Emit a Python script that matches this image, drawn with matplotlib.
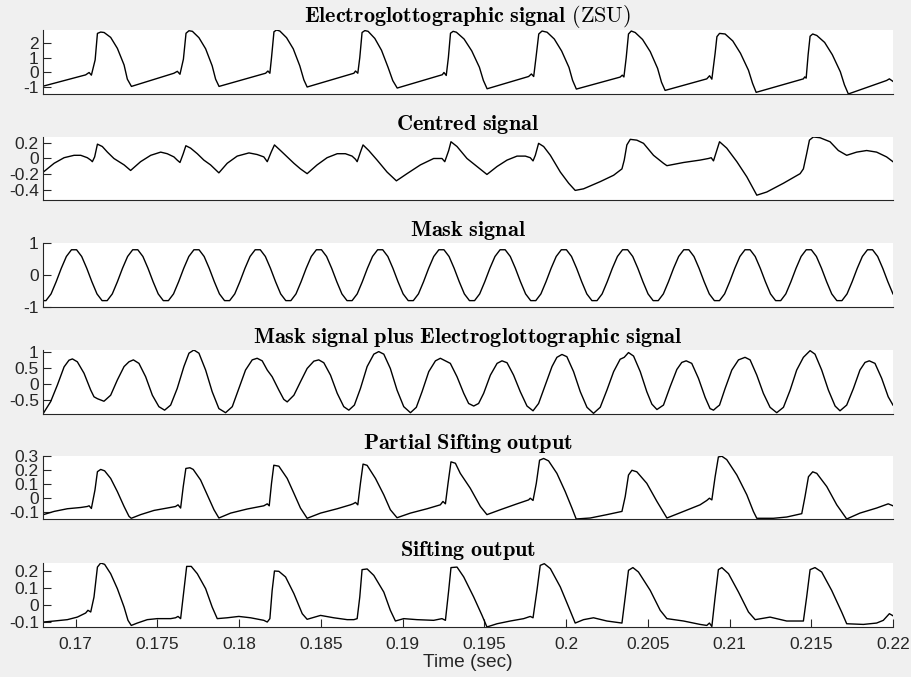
import numpy as np
import matplotlib
matplotlib.use("Agg")
import matplotlib.pyplot as plt

# All times are in milliseconds.

# Electroglottographic signal (ZSU)
egg_t = [168.02, 170.61, 170.82, 170.96, 171.19, 171.33, 171.53, 171.74, 172.14, 172.55, 172.96, 173.16, 173.41,
         176.01, 176.22, 176.38, 176.59, 176.75, 176.93, 177.14, 177.54, 177.95, 178.35, 178.56, 178.77,
         181.62, 181.76, 181.88, 181.98, 182.13, 182.29, 182.49, 182.90, 183.31, 183.71, 183.96, 184.16,
         187.02, 187.12, 187.26, 187.38, 187.52, 187.69, 187.89, 188.30, 188.71, 189.11, 189.40, 189.67,
         192.43, 192.53, 192.67, 192.80, 192.93, 193.09, 193.29, 193.76, 194.23, 194.70, 194.94, 195.17,
         197.71, 197.88, 198.02, 198.16, 198.33, 198.53, 198.84, 199.28, 199.73, 200.18, 200.40, 200.63,
         203.31, 203.44, 203.54, 203.68, 203.82, 203.99, 204.23, 204.68, 205.15, 205.60, 205.84, 206.06,
         208.61, 208.78, 208.92, 209.12, 209.23, 209.39, 209.73, 210.20, 210.67, 211.16, 211.41, 211.63,
         214.52, 214.60, 214.69, 214.81, 214.93, 215.09, 215.34, 215.82, 216.29, 216.78, 217.03, 217.27,
         219.61, 219.78, 220.00]
egg_y = [-0.92, -0.16, 0.00, -0.18, 0.85, 2.64, 2.73, 2.70, 2.37, 1.63, 0.51, -0.45, -0.94,
         -0.05, 0.08, -0.12, 0.90, 2.65, 2.82, 2.78, 2.35, 1.60, 0.45, -0.45, -0.94,
         -0.05, 0.10, -0.05, 1.00, 2.75, 2.87, 2.80, 2.35, 1.60, 0.45, -0.50, -0.98,
         -0.05, 0.10, -0.05, 1.00, 2.70, 2.83, 2.78, 2.30, 1.50, 0.35, -0.55, -1.05,
         -0.15, 0.00, -0.20, 1.00, 2.65, 2.78, 2.72, 2.26, 1.46, 0.35, -0.53, -1.10,
         -0.27, -0.10, -0.27, 1.00, 2.60, 2.80, 2.72, 2.26, 1.45, 0.34, -0.53, -1.12,
         -0.31, -0.18, -0.30, 1.00, 2.60, 2.80, 2.70, 2.23, 1.41, 0.28, -0.66, -1.21,
         -0.43, -0.22, -0.45, 1.30, 2.42, 2.64, 2.60, 2.13, 1.30, 0.15, -0.73, -1.34,
         -0.43, -0.30, -0.38, 1.20, 2.45, 2.60, 2.50, 2.03, 1.20, 0.05, -0.83, -1.45,
         -0.54, -0.43, -0.60]

# Centred signal
centred_t = [168.02, 168.68, 169.29, 169.90, 170.31, 170.71, 170.92, 171.02, 171.16, 171.33, 171.63, 171.94, 172.34, 172.96, 173.36,
             173.97, 174.59, 175.20, 175.60, 176.01, 176.21, 176.38, 176.58, 176.74, 177.03, 177.44, 177.84, 178.25, 178.76,
             179.27, 179.88, 180.60, 181.10, 181.51, 181.72, 181.96, 182.16, 182.53, 182.94, 183.35, 183.75, 184.16,
             184.77, 185.38, 186.00, 186.50, 186.91, 187.12, 187.22, 187.42, 187.58, 187.93, 188.44, 189.05, 189.62,
             190.27, 191.09, 191.90, 192.41, 192.58, 192.82, 192.96, 193.33, 193.94, 194.55, 195.16,
             195.78, 196.39, 197.00, 197.51, 197.81, 197.98, 198.12, 198.32, 198.63, 199.04, 199.65, 200.16, 200.56,
             201.07, 202.09, 202.91, 203.42, 203.56, 203.72, 203.93, 204.33, 204.74, 205.35, 205.96, 206.17,
             207.19, 208.20, 208.71, 208.88, 209.02, 209.22, 209.39, 209.83, 210.45, 211.06, 211.67,
             212.28, 213.30, 214.32, 214.52, 214.72, 214.89, 215.13, 215.54, 216.15, 216.66, 217.17,
             217.78, 218.39, 219.00, 219.61, 220.00]
centred_y = [-0.17, -0.06, 0.01, 0.04, 0.04, 0.01, -0.02, -0.04, 0.02, 0.18, 0.15, 0.08, 0.00, -0.08, -0.15,
             -0.04, 0.04, 0.08, 0.06, 0.02, -0.02, -0.05, 0.06, 0.16, 0.13, 0.06, -0.02, -0.08, -0.18,
             -0.06, 0.03, 0.07, 0.05, 0.02, -0.04, 0.08, 0.17, 0.10, 0.02, -0.06, -0.13, -0.19,
             -0.08, 0.01, 0.06, 0.06, 0.03, -0.01, -0.04, 0.08, 0.17, 0.10, -0.02, -0.17, -0.28,
             -0.19, -0.08, 0.00, 0.00, -0.04, 0.10, 0.21, 0.15, 0.00, -0.10, -0.20,
             -0.10, -0.02, 0.03, 0.03, 0.01, -0.03, 0.04, 0.19, 0.15, 0.04, -0.17, -0.31, -0.40,
             -0.38, -0.29, -0.21, -0.13, -0.02, 0.17, 0.24, 0.23, 0.19, 0.04, -0.06, -0.09,
             -0.05, -0.02, 0.00, 0.01, -0.03, 0.10, 0.21, 0.13, -0.04, -0.23, -0.46,
             -0.42, -0.31, -0.19, -0.13, 0.06, 0.23, 0.27, 0.26, 0.21, 0.10, 0.04,
             0.08, 0.10, 0.08, 0.02, -0.04]

# Mask signal, sampled evenly from 167.869 ms to 220.0 ms (12 samples per cycle)
mask_y = [-0.80,
          -0.80, -0.59, -0.21, 0.21, 0.58, 0.79, 0.79, 0.58, 0.21, -0.21, -0.59, -0.80,
          -0.80, -0.59, -0.21, 0.21, 0.58, 0.79, 0.79, 0.58, 0.21, -0.21, -0.59, -0.80,
          -0.80, -0.59, -0.21, 0.21, 0.58, 0.79, 0.79, 0.58, 0.21, -0.21, -0.59, -0.80,
          -0.80, -0.59, -0.21, 0.21, 0.58, 0.79, 0.79, 0.58, 0.21, -0.21, -0.59, -0.80,
          -0.80, -0.59, -0.21, 0.21, 0.58, 0.79, 0.79, 0.58, 0.21, -0.21, -0.59, -0.80,
          -0.80, -0.59, -0.21, 0.21, 0.58, 0.79, 0.79, 0.58, 0.21, -0.21, -0.59, -0.80,
          -0.80, -0.59, -0.21, 0.21, 0.58, 0.79, 0.79, 0.58, 0.21, -0.21, -0.59, -0.80,
          -0.80, -0.59, -0.21, 0.21, 0.58, 0.79, 0.79, 0.58, 0.21, -0.21, -0.59, -0.80,
          -0.80, -0.59, -0.21, 0.21, 0.58, 0.79, 0.79, 0.58, 0.21, -0.21, -0.59, -0.80,
          -0.80, -0.59, -0.21, 0.21, 0.58, 0.79, 0.79, 0.58, 0.21, -0.21, -0.59, -0.80,
          -0.80, -0.59, -0.21, 0.21, 0.58, 0.79, 0.79, 0.58, 0.21, -0.21, -0.59, -0.80,
          -0.80, -0.59, -0.21, 0.21, 0.58, 0.79, 0.79, 0.58, 0.21, -0.21, -0.59, -0.80,
          -0.80, -0.59, -0.21, 0.21, 0.58, 0.79, 0.79, 0.58, 0.21, -0.21, -0.59, -0.80,
          -0.80, -0.59, -0.21, 0.21, 0.58, 0.79, 0.79, 0.58, 0.21, -0.21, -0.59]
mask_t = np.linspace(167.869, 220.0, len(mask_y))

# Mask signal plus Electroglottographic signal
mask_egg_t = [168.02, 168.47, 168.88, 169.29, 169.59, 169.80, 170.10, 170.51, 170.92, 171.12, 171.33, 171.73,
              172.14, 172.55, 172.96, 173.26, 173.53, 173.87, 174.28, 174.69, 175.09, 175.44,
              175.81, 176.21, 176.62, 176.93, 177.23, 177.54, 177.95, 178.35, 178.76, 179.17,
              179.58, 179.98, 180.39, 180.80, 181.10, 181.41, 181.72, 182.02, 182.43, 182.73, 182.94,
              183.35, 183.75, 184.16, 184.57, 184.87, 185.18, 185.59, 186.00, 186.40, 186.71,
              187.05, 187.42, 187.83, 188.24, 188.54, 188.85, 189.25, 189.66, 190.07, 190.48,
              190.84, 191.19, 191.60, 192.01, 192.31, 192.62, 192.92, 193.33, 193.74, 194.04, 194.35,
              194.65, 194.96, 195.37, 195.78, 196.08, 196.39, 196.79, 197.20, 197.61, 197.98,
              198.32, 198.73, 199.14, 199.44, 199.75, 200.05, 200.46, 200.87, 201.28, 201.68,
              202.09, 202.50, 202.91, 203.31, 203.56, 203.82, 204.13, 204.54, 204.94, 205.25, 205.56,
              205.96, 206.37, 206.78, 207.08, 207.35, 207.69, 208.10, 208.51, 208.81, 209.02,
              209.22, 209.39, 209.73, 210.14, 210.55, 210.95, 211.26, 211.67, 212.07, 212.48, 212.89,
              213.30, 213.71, 214.11, 214.52, 214.93, 215.23, 215.64, 216.05, 216.46, 216.76,
              217.17, 217.58, 217.98, 218.29, 218.55, 218.90, 219.31, 219.71, 220.00]
mask_egg_y = [-0.92, -0.55, -0.03, 0.54, 0.75, 0.79, 0.70, 0.34, -0.19, -0.40, -0.46, -0.54,
              -0.35, 0.13, 0.55, 0.70, 0.76, 0.65, 0.23, -0.35, -0.71, -0.82,
              -0.66, -0.14, 0.55, 0.97, 1.07, 0.97, 0.44, -0.24, -0.77, -0.90,
              -0.71, -0.14, 0.44, 0.76, 0.81, 0.73, 0.44, 0.23, -0.19, -0.48, -0.56,
              -0.35, 0.07, 0.49, 0.72, 0.76, 0.67, 0.28, -0.29, -0.71, -0.82,
              -0.66, -0.14, 0.55, 0.94, 1.02, 0.94, 0.49, -0.19, -0.71, -0.90,
              -0.73, -0.24, 0.39, 0.73, 0.81, 0.73, 0.65, 0.23, -0.29, -0.61, -0.69,
              -0.61, -0.29, 0.28, 0.65, 0.73, 0.67, 0.28, -0.24, -0.69, -0.84,
              -0.61, -0.03, 0.55, 0.84, 0.93, 0.86, 0.39, -0.24, -0.73, -0.92,
              -0.73, -0.19, 0.39, 0.78, 0.84, 0.99, 0.88, 0.39, -0.24, -0.63, -0.80,
              -0.66, -0.08, 0.46, 0.68, 0.73, 0.65, 0.18, -0.42, -0.77, -0.82,
              -0.73, -0.66, -0.14, 0.44, 0.76, 0.84, 0.76, 0.28, -0.29, -0.73, -0.90,
              -0.73, -0.19, 0.44, 0.84, 1.05, 0.94, 0.44, -0.19, -0.69, -0.84,
              -0.66, -0.14, 0.44, 0.68, 0.73, 0.65, 0.18, -0.40, -0.66]

# Partial Sifting output
partial_t = [168.02, 168.68, 169.49, 170.31, 170.71, 170.82, 170.96, 171.18, 171.33, 171.53, 171.77, 172.14, 172.55, 172.96, 173.26, 173.40,
             173.97, 174.79, 175.60, 176.11, 176.26, 176.42, 176.58, 176.74, 176.99, 177.19, 177.64, 178.05, 178.46, 178.76,
             179.48, 180.49, 181.51, 181.72, 181.84, 181.98, 182.12, 182.43, 182.94, 183.35, 183.75, 184.16,
             184.98, 186.00, 186.81, 186.97, 187.12, 187.26, 187.42, 187.58, 187.83, 188.34, 188.85, 189.25, 189.66,
             190.48, 191.50, 192.31, 192.47, 192.62, 192.78, 192.96, 193.23, 193.53, 194.14, 194.76, 195.16,
             195.98, 197.00, 197.71, 197.81, 197.98, 198.18, 198.38, 198.63, 198.93, 199.44, 199.95, 200.36, 200.62,
             201.48, 202.50, 203.42, 203.62, 203.82, 204.03, 204.33, 204.94, 205.56, 206.17,
             207.19, 208.20, 208.61, 208.77, 208.92, 209.12, 209.32, 209.53, 209.83, 210.45, 211.06, 211.46, 211.67,
             212.69, 213.50, 214.42, 214.62, 214.83, 215.09, 215.34, 215.95, 216.56, 217.17,
             217.98, 219.00, 219.71, 220.00]
partial_y = [-0.116, -0.093, -0.074, -0.065, -0.058, -0.053, -0.072, 0.06, 0.19, 0.206, 0.196, 0.142, 0.048, -0.058, -0.128, -0.142,
             -0.116, -0.086, -0.069, -0.058, -0.046, -0.069, 0.084, 0.213, 0.218, 0.206, 0.131, 0.025, -0.081, -0.14,
             -0.105, -0.076, -0.053, -0.039, -0.053, 0.107, 0.236, 0.229, 0.142, 0.036, -0.069, -0.142,
             -0.105, -0.074, -0.046, -0.039, -0.029, -0.046, 0.107, 0.244, 0.235, 0.142, 0.025, -0.081, -0.138,
             -0.105, -0.074, -0.046, -0.022, -0.039, 0.107, 0.26, 0.25, 0.178, 0.072, -0.058, -0.116,
             -0.081, -0.039, -0.011, 0.001, -0.015, 0.107, 0.272, 0.284, 0.267, 0.178, 0.048, -0.069, -0.147,
             -0.14, -0.116, -0.093, 0.013, 0.166, 0.2, 0.189, 0.107, -0.022, -0.14,
             -0.093, -0.046, -0.015, 0.001, -0.011, 0.154, 0.295, 0.30, 0.276, 0.166, 0.025, -0.093, -0.142,
             -0.142, -0.133, -0.109, 0.013, 0.154, 0.189, 0.178, 0.084, -0.046, -0.147,
             -0.105, -0.069, -0.039, -0.053]

# Sifting output
sifting_t = [168.02, 168.68, 169.49, 170.10, 170.61, 170.75, 170.92, 171.12, 171.33, 171.53, 171.77, 172.14, 172.55, 172.96, 173.20, 173.40,
             173.77, 174.38, 174.99, 175.81, 176.11, 176.26, 176.42, 176.62, 176.79, 177.07, 177.44, 177.95, 178.35, 178.66,
             179.27, 179.98, 180.70, 181.51, 181.72, 181.88, 182.02, 182.16, 182.43, 182.84, 183.35, 183.86, 184.16,
             184.98, 185.79, 186.61, 187.02, 187.22, 187.38, 187.52, 187.83, 188.24, 188.85, 189.25, 189.56,
             190.07, 190.88, 191.90, 192.41, 192.62, 192.82, 192.96, 193.33, 193.74, 194.35, 194.86, 195.16,
             195.78, 196.59, 197.41, 197.81, 197.98, 198.22, 198.42, 198.67, 199.04, 199.65, 200.16, 200.56,
             201.07, 201.68, 202.50, 203.42, 203.62, 203.82, 204.09, 204.43, 205.15, 205.76, 206.17,
             207.19, 208.20, 208.61, 208.77, 208.92, 209.12, 209.32, 209.53, 209.94, 210.55, 211.16, 211.57,
             212.48, 213.50, 214.52, 214.72, 214.93, 215.23, 215.64, 216.25, 216.86, 217.17,
             218.19, 219.00, 219.41, 219.78, 220.00]
sifting_y = [-0.098, -0.092, -0.084, -0.069, -0.045, -0.029, -0.039, 0.049, 0.225, 0.249, 0.241, 0.186, 0.098, -0.01, -0.088, -0.118,
             -0.104, -0.084, -0.078, -0.078, -0.073, -0.065, -0.078, 0.088, 0.229, 0.229, 0.186, 0.098, -0.01, -0.078,
             -0.073, -0.065, -0.073, -0.088, -0.098, -0.078, 0.088, 0.202, 0.20, 0.167, 0.069, -0.049, -0.082,
             -0.059, -0.073, -0.084, -0.084, -0.078, 0.049, 0.21, 0.214, 0.176, 0.078, -0.029, -0.092,
             -0.078, -0.084, -0.088, -0.078, -0.088, 0.088, 0.222, 0.225, 0.167, 0.049, -0.059, -0.127,
             -0.108, -0.092, -0.078, -0.065, -0.073, 0.088, 0.235, 0.245, 0.216, 0.108, -0.01, -0.104,
             -0.084, -0.073, -0.092, -0.104, 0.049, 0.206, 0.222, 0.196, 0.088, -0.029, -0.078,
             -0.092, -0.112, -0.118, -0.104, -0.124, 0.049, 0.21, 0.222, 0.186, 0.078, -0.039, -0.084,
             -0.069, -0.092, -0.092, 0.049, 0.21, 0.222, 0.196, 0.088, -0.039, -0.108,
             -0.112, -0.104, -0.088, -0.049, -0.061]

titles = [r"$\mathbf{Electroglottographic\ signal}\ \mathrm{(ZSU)}$",
          r"$\mathbf{Centred\ signal}$",
          r"$\mathbf{Mask\ signal}$",
          r"$\mathbf{Mask\ signal\ plus\ Electroglottographic\ signal}$",
          r"$\mathbf{Partial\ Sifting\ output}$",
          r"$\mathbf{Sifting\ output}$"]

y_limits = [(-1.45, 2.87), (-0.52, 0.27), (-1.0, 1.0), (-0.94, 1.07), (-0.147, 0.302), (-0.127, 0.249)]
y_ticks = [[-1, 0, 1, 2], [-0.4, -0.2, 0, 0.2], [-1, 0, 1], [-0.5, 0, 0.5, 1],
           [-0.1, 0, 0.1, 0.2, 0.3], [-0.1, 0, 0.1, 0.2]]
y_ticklabels = [["-1", "0", "1", "2"], ["-0.4", "-0.2", "0", "0.2"], ["-1", "0", "1"],
                ["-0.5", "0", "0.5", "1"], ["-0.1", "0", "0.1", "0.2", "0.3"], ["-0.1", "0", "0.1", "0.2"]]

x_ticks = [0.17, 0.175, 0.18, 0.185, 0.19, 0.195, 0.2, 0.205, 0.21, 0.215, 0.22]
x_ticklabels = ["0.17", "0.175", "0.18", "0.185", "0.19", "0.195", "0.2", "0.205", "0.21", "0.215", "0.22"]

AXIS_COLOR = "#262626"


def style_axis(ax, ylim, yticks, ylabels):
    """MATLAB-like look: box off, inward ticks, white plot area."""
    ax.set_facecolor("white")
    ax.set_xlim(0.168, 0.22)
    ax.set_ylim(*ylim)
    ax.set_yticks(yticks)
    ax.set_yticklabels(ylabels)
    for side in ("top", "right"):
        ax.spines[side].set_visible(False)
    for side in ("left", "bottom"):
        ax.spines[side].set_color(AXIS_COLOR)
        ax.spines[side].set_linewidth(0.8)
    ax.tick_params(axis="y", direction="in", length=6, width=0.8,
                   colors=AXIS_COLOR, labelsize=12.5, pad=3)


def main():
    plt.rcParams["font.family"] = ["Liberation Sans", "DejaVu Sans"]
    plt.rcParams["mathtext.fontset"] = "cm"
    plt.rcParams["axes.unicode_minus"] = False

    fig = plt.figure(figsize=(9.11, 6.77), dpi=100, facecolor="#f0f0f0")

    series = [(egg_t, egg_y), (centred_t, centred_y), (mask_t, mask_y),
              (mask_egg_t, mask_egg_y), (partial_t, partial_y), (sifting_t, sifting_y)]

    # panel rectangles in figure fractions (left, bottom, width, height)
    boxes = [(0.0472, 0.8612, 0.9330, 0.0945),
             (0.0472, 0.7046, 0.9330, 0.0931),
             (0.0472, 0.5465, 0.9330, 0.0945),
             (0.0472, 0.3885, 0.9330, 0.0945),
             (0.0472, 0.2334, 0.9330, 0.0931),
             (0.0472, 0.0739, 0.9330, 0.0945)]

    for i, (t_ms, y) in enumerate(series):
        ax = fig.add_axes(boxes[i])
        ax.plot(np.asarray(t_ms) / 1000.0, y, color="black", linewidth=1.0)
        style_axis(ax, y_limits[i], y_ticks[i], y_ticklabels[i])
        ax.set_title(titles[i], fontsize=16, color="black", pad=5)
        if i < len(series) - 1:
            ax.set_xticks([])
        else:
            ax.set_xticks(x_ticks)
            ax.set_xticklabels(x_ticklabels)
            ax.tick_params(axis="x", direction="in", length=6, width=0.8,
                           colors=AXIS_COLOR, labelsize=12.5, pad=7)
            ax.set_xlabel("Time (sec)", fontsize=13.8, color=AXIS_COLOR, labelpad=2)

    fig.savefig("out.png", dpi=100, facecolor=fig.get_facecolor())


if __name__ == "__main__":
    main()
